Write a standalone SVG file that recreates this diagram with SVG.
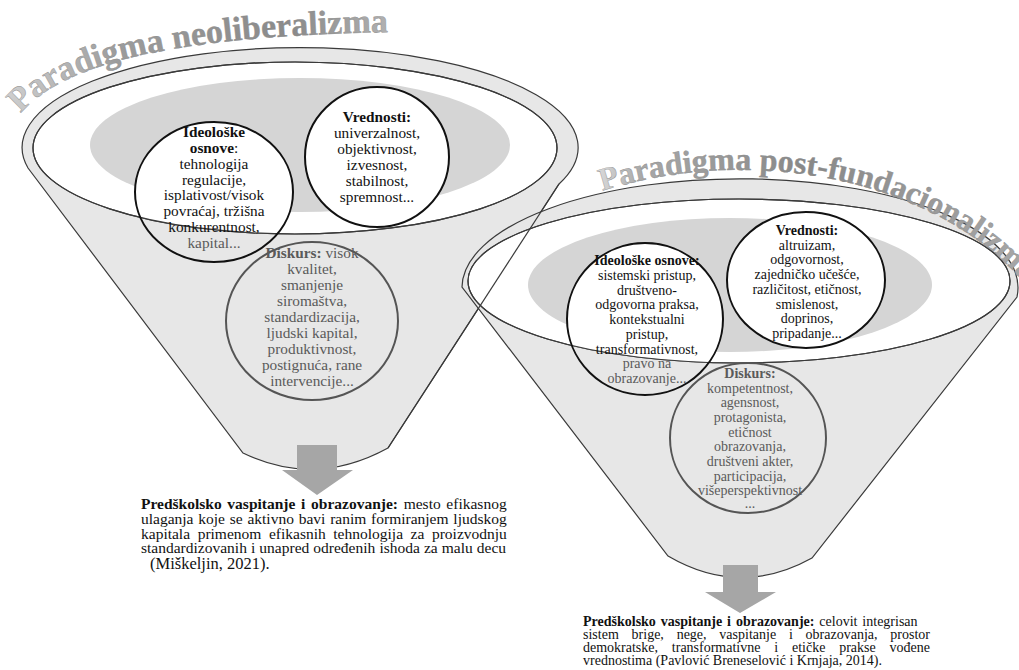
<svg xmlns="http://www.w3.org/2000/svg" width="1019" height="670" viewBox="0 0 1019 670">
<defs>
<style>
.t{font-family:"Liberation Serif","Times New Roman",serif;fill:#111;}
.b{font-weight:bold;}
.m{text-anchor:middle;}
.l15{font-size:15.3px;}
.r14{font-size:14px;}
.g{fill:#5a5a5a;}
.body{fill:#e7e7e7;stroke:#3a3a3a;stroke-width:1.2;}
.hole{fill:#ffffff;stroke:#3a3a3a;stroke-width:1.2;}
.edge{fill:none;stroke:#3a3a3a;stroke-width:1.2;}
.core{fill:#d5d5d5;stroke:none;}
.cw{fill:none;stroke:#111;stroke-width:2;}
.cg{fill:none;stroke:#555;stroke-width:2;}
.arrow{fill:#a6a6a6;}
.ttl{font-family:"Liberation Serif","Times New Roman",serif;font-weight:bold;stroke:#8a8a8a;stroke-width:0.4;}
</style>
<linearGradient id="gL" gradientUnits="userSpaceOnUse" x1="0" y1="0" x2="390" y2="0">
<stop offset="0" stop-color="#d2d2d2"/><stop offset="0.3" stop-color="#9c9c9c"/><stop offset="0.75" stop-color="#8a8a8a"/><stop offset="1" stop-color="#b2b2b2"/>
</linearGradient>
<linearGradient id="gR" gradientUnits="userSpaceOnUse" x1="590" y1="0" x2="1019" y2="0">
<stop offset="0" stop-color="#e2e2e2"/><stop offset="0.12" stop-color="#a8a8a8"/><stop offset="0.5" stop-color="#888888"/><stop offset="1" stop-color="#a6a6a6"/>
</linearGradient>
<path id="pL" d="M 8 135 C 30 80, 120 35, 405 32"/>
<path id="pR" d="M 590 195.1 A 330 230 0 0 1 1040 304"/>
<clipPath id="clipL"><ellipse cx="295" cy="148" rx="262" ry="86"/></clipPath>
<clipPath id="clipR"><ellipse cx="739" cy="281" rx="271" ry="82"/></clipPath>
</defs>

<g id="funnel-neoliberalizam">
<path class="body" d="M 28 168 A 278 100 0 1 1 559 184 L 388 448 Q 315 488 243 453 Z"/>
<ellipse class="hole" cx="295" cy="148" rx="262" ry="86"/>
<ellipse class="core" cx="300" cy="145" rx="210" ry="67"/>
<text class="ttl" font-size="34" fill="url(#gL)"><textPath href="#pL" startOffset="25">Paradigma neoliberalizma</textPath></text>
</g>

<g id="funnel-post-fundacionalizam">
<path class="body" d="M 462 287 A 278 109 0 1 1 1017 297 L 812 558 Q 740 598 668 556 Z"/>
<ellipse class="hole" cx="739" cy="281" rx="271" ry="82"/>
<ellipse class="core" cx="730" cy="285" rx="202" ry="67"/>
<text class="ttl" font-size="32" fill="url(#gR)"><textPath href="#pR" startOffset="13">Paradigma post-fundacionalizma</textPath></text>
</g>

<line class="edge" x1="388" y1="448" x2="559" y2="184"/>

<g id="connectors">
<path class="arrow" d="M 297 445 H 337 V 470 H 353 L 317 495 L 282 470 H 297 Z"/>
<path class="arrow" d="M 723 565 H 758 V 592 H 776 L 740 613 L 705 592 H 723 Z"/>
</g>

<g id="node-left-ideoloske">
<ellipse cx="214" cy="192" rx="79" ry="70" fill="#fff" clip-path="url(#clipL)"/>
</g>
<g id="node-left-vrednosti">
<ellipse cx="377" cy="157" rx="72" ry="70" fill="#fff" clip-path="url(#clipL)"/>
</g>
<ellipse class="edge" cx="295" cy="148" rx="262" ry="86"/>
<g id="node-left-ideoloske-text">
<ellipse class="cw" cx="214" cy="192" rx="79" ry="70"/>
<text class="t l15 m" x="214" y="137"><tspan class="b">Ideološke</tspan></text>
<text class="t l15 m" x="214" y="152.9"><tspan class="b">osnove</tspan>:</text>
<text class="t l15 m" x="214" y="168.7">tehnologija</text>
<text class="t l15 m" x="214" y="184.6">regulacije,</text>
<text class="t l15 m" x="214" y="200.4">isplativost/visok</text>
<text class="t l15 m" x="214" y="216.3">povraćaj, tržišna</text>
<text class="t l15 m" x="214" y="232.2">konkurentnost,</text>
<text class="t l15 m g" x="214" y="248">kapital...</text>
</g>
<g id="node-left-vrednosti-text">
<ellipse class="cw" cx="377" cy="157" rx="72" ry="70"/>
<text class="t l15 m b" x="377" y="122">Vrednosti:</text>
<text class="t l15 m" x="377" y="138">univerzalnost,</text>
<text class="t l15 m" x="377" y="154">objektivnost,</text>
<text class="t l15 m" x="377" y="170">izvesnost,</text>
<text class="t l15 m" x="377" y="186">stabilnost,</text>
<text class="t l15 m" x="377" y="202">spremnost...</text>
</g>
<g id="node-left-diskurs">
<ellipse class="cg" cx="312" cy="321" rx="86" ry="79"/>
<text class="t l15 m g" x="312" y="258"><tspan class="b">Diskurs:</tspan> visok</text>
<text class="t l15 m g" x="312" y="274">kvalitet,</text>
<text class="t l15 m g" x="312" y="290">smanjenje</text>
<text class="t l15 m g" x="312" y="306">siromaštva,</text>
<text class="t l15 m g" x="312" y="322">standardizacija,</text>
<text class="t l15 m g" x="312" y="338">ljudski kapital,</text>
<text class="t l15 m g" x="312" y="354">produktivnost,</text>
<text class="t l15 m g" x="312" y="370">postignuća, rane</text>
<text class="t l15 m g" x="312" y="386">intervencije...</text>
</g>

<g id="node-right-fill">
<ellipse cx="645" cy="319" rx="78" ry="76" fill="#fff" clip-path="url(#clipR)"/>
<ellipse cx="806" cy="280" rx="79" ry="68" fill="#fff" clip-path="url(#clipR)"/>
</g>
<ellipse class="edge" cx="739" cy="281" rx="271" ry="82"/>
<g id="node-right-ideoloske">
<ellipse class="cw" cx="645" cy="319" rx="78" ry="76"/>
<text class="t r14 m b" x="647" y="265">Ideološke osnove:</text>
<text class="t r14 m" x="647" y="279.8">sistemski pristup,</text>
<text class="t r14 m" x="647" y="294.5">društveno-</text>
<text class="t r14 m" x="647" y="309.3">odgovorna praksa,</text>
<text class="t r14 m" x="647" y="324">kontekstualni</text>
<text class="t r14 m" x="647" y="338.8">pristup,</text>
<text class="t r14 m" x="647" y="353.5">transformativnost,</text>
<text class="t r14 m g" x="647" y="368.3">pravo na</text>
<text class="t r14 m g" x="647" y="383">obrazovanje...</text>
</g>
<g id="node-right-vrednosti">
<ellipse class="cw" cx="806" cy="280" rx="79" ry="68"/>
<text class="t r14 m b" x="807" y="235">Vrednosti:</text>
<text class="t r14 m" x="807" y="249.7">altruizam,</text>
<text class="t r14 m" x="807" y="264.4">odgovornost,</text>
<text class="t r14 m" x="807" y="279.1">zajedničko učešće,</text>
<text class="t r14 m" x="807" y="293.8">različitost, etičnost,</text>
<text class="t r14 m" x="807" y="308.5">smislenost,</text>
<text class="t r14 m" x="807" y="323.2">doprinos,</text>
<text class="t r14 m" x="807" y="337.9">pripadanje...</text>
</g>
<g id="node-right-diskurs">
<ellipse class="cg" cx="748" cy="438" rx="78" ry="75"/>
<text class="t r14 m b g" x="750" y="378">Diskurs:</text>
<text class="t r14 m g" x="750" y="392.7">kompetentnost,</text>
<text class="t r14 m g" x="750" y="407.3">agensnost,</text>
<text class="t r14 m g" x="750" y="422">protagonista,</text>
<text class="t r14 m g" x="750" y="436.7">etičnost</text>
<text class="t r14 m g" x="750" y="451.3">obrazovanja,</text>
<text class="t r14 m g" x="750" y="466">društveni akter,</text>
<text class="t r14 m g" x="750" y="480.7">participacija,</text>
<text class="t r14 m g" x="750" y="495.3">višeperspektivnost</text>
<text class="t r14 m g" x="750" y="508">...</text>
</g>

<g id="node-left-outcome">
<text class="t" font-size="15.5" x="141" y="509" word-spacing="1.8"><tspan class="b">Predškolsko vaspitanje i obrazovanje:</tspan> mesto efikasnog</text>
<text class="t" font-size="15.5" x="141" y="523.8" word-spacing="0.9">ulaganja koje se aktivno bavi ranim formiranjem ljudskog</text>
<text class="t" font-size="15.5" x="141" y="538.6" word-spacing="3.7">kapitala primenom efikasnih tehnologija za proizvodnju</text>
<text class="t" font-size="15.5" x="141" y="553.4" word-spacing="0.2">standardizovanih i unapred određenih ishoda za malu decu</text>
<text class="t" font-size="16.5" x="150" y="569" fill="#333">(Miškeljin, 2021).</text>
</g>

<g id="node-right-outcome">
<text class="t" font-size="14" x="583" y="626" word-spacing="1.4"><tspan class="b">Predškolsko vaspitanje i obrazovanje:</tspan> celovit integrisan</text>
<text class="t" font-size="14" x="583" y="639" word-spacing="9.3">sistem brige, nege, vaspitanje i obrazovanja, prostor</text>
<text class="t" font-size="14" x="583" y="652" word-spacing="10.3">demokratske, transformativne i etičke prakse vođene</text>
<text class="t" font-size="14" x="583" y="665">vrednostima (Pavlović Breneselović i Krnjaja, 2014).</text>
</g>
</svg>
